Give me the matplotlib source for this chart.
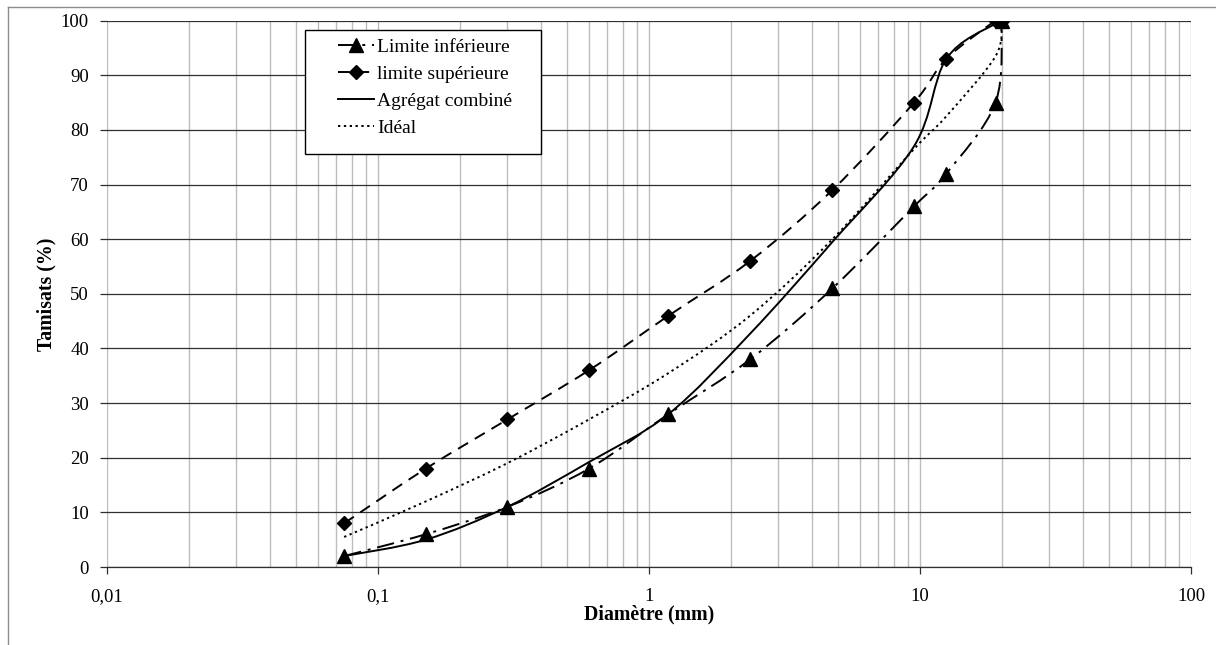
import numpy as np
import matplotlib
matplotlib.use("Agg")
import matplotlib.pyplot as plt
from matplotlib.path import Path
from matplotlib.patches import PathPatch, Rectangle
from matplotlib.lines import Line2D
from matplotlib.ticker import FixedLocator, FixedFormatter, LogLocator, NullFormatter

plt.rcParams['font.family'] = ['Liberation Serif', 'DejaVu Serif']

# sieve openings (mm)
sizes = [0.075, 0.15, 0.3, 0.6, 1.18, 2.36, 4.75, 9.5, 12.5, 19, 20]
lower = [2, 6, 11, 18, 28, 38, 51, 66, 72, 85, 100]
upper = [8, 18, 27, 36, 46, 56, 69, 85, 93, 100, 100]
combined = [2, 5, 11, 19.2, 28, 42.7, 59.5, 77, 93, 99.5, 100]
ideal = [5.5, 12, 19, 27, 35.5, 46, 60, 76.5, 82.5, 93.5, 100]

labels = ['Limite inférieure', 'limite supérieure', 'Agrégat combiné', 'Idéal']
xticks = [0.01, 0.1, 1, 10, 100]
xticklabels = ['0,01', '0,1', '1', '10', '100']
yticks = list(range(0, 101, 10))

ls_lower = (0, (9, 3.5, 1.5, 3.5))
ls_upper = (0, (6, 4))
ls_comb = '-'
ls_ideal = (0, (1.2, 1.8))


def smooth_path(xs, ys):
    # excel-like smoothed line: cubic bezier through the points (log x)
    pts = np.column_stack([np.log10(xs), ys]).astype(float)
    n = len(pts)
    verts = [pts[0]]
    codes = [Path.MOVETO]
    for i in range(n - 1):
        p0 = pts[i - 1] if i > 0 else pts[i]
        p3 = pts[i + 2] if i + 2 < n else pts[i + 1]
        c1 = pts[i] + (pts[i + 1] - p0) / 6
        c2 = pts[i + 1] - (p3 - pts[i]) / 6
        verts += [c1, c2, pts[i + 1]]
        codes += [Path.CURVE4] * 3
    verts = np.array(verts)
    verts[:, 0] = 10 ** verts[:, 0]
    return Path(verts, codes)


fig = plt.figure(figsize=(12.16, 6.45), dpi=100)
ax = fig.add_axes([107/1216, 78/645, 1084/1216, 546.3/645])
ax.set_xscale('log')
ax.set_xlim(0.01, 100)
ax.set_ylim(0, 100)

lw = 1.4
for ys, ls in [(lower, ls_lower), (upper, ls_upper), (combined, ls_comb), (ideal, ls_ideal)]:
    p = PathPatch(smooth_path(sizes, ys), facecolor='none', edgecolor='black',
                  linewidth=lw, linestyle=ls, zorder=3)
    ax.add_patch(p)

ax.plot(sizes, lower, '^', color='black', ms=10, zorder=4)
ax.plot(sizes, upper, 'D', color='black', ms=7, zorder=4)

# grid
ax.xaxis.set_major_locator(FixedLocator(xticks))
ax.xaxis.set_major_formatter(FixedFormatter(xticklabels))
ax.xaxis.set_minor_locator(LogLocator(base=10, subs=np.arange(2, 10)))
ax.xaxis.set_minor_formatter(NullFormatter())
ax.set_yticks(yticks)
ax.grid(True, axis='x', which='both', color='#bdbdbd', linewidth=1.0, zorder=0)
ax.grid(True, axis='y', which='major', color='#303030', linewidth=0.9, zorder=0)
ax.set_axisbelow(True)

for s in ['left', 'right', 'top']:
    ax.spines[s].set_visible(False)
ax.spines['bottom'].set_color('#303030')
ax.spines['bottom'].set_linewidth(0.9)

ax.tick_params(axis='both', which='major', labelsize=13.5, length=5, width=0.9,
               color='#303030', direction='out')
ax.tick_params(axis='x', which='minor', length=0)
ax.tick_params(axis='x', which='major', pad=10)
ax.tick_params(axis='y', which='major', pad=8)

ax.set_xlabel('Diamètre (mm)', fontsize=14.3, fontweight='bold', labelpad=0)
ax.set_ylabel('Tamisats (%)', fontsize=14.3, fontweight='bold', labelpad=3)

# legend box drawn separately so its padding matches the original
ax.add_patch(Rectangle((0.1827, 0.756), 0.2177, 0.227, transform=ax.transAxes,
                       facecolor='white', edgecolor='black', lw=1.0, zorder=5))
handles = [
    Line2D([], [], color='black', lw=lw, ls=ls_lower, marker='^', ms=10),
    Line2D([], [], color='black', lw=lw, ls=ls_upper, marker='D', ms=7),
    Line2D([], [], color='black', lw=lw, ls=ls_comb),
    Line2D([], [], color='black', lw=lw, ls=ls_ideal),
]
leg = ax.legend(handles, labels, loc='upper left', bbox_to_anchor=(0.213, 0.968),
                borderaxespad=0, borderpad=0, fontsize=14, frameon=False,
                handlelength=1.85, handletextpad=0.15, labelspacing=0.48)
leg.set_zorder(6)

# outer chart-area border
fig.add_artist(Line2D([8/1216, 8/1216], [0, 1 - 7/645], transform=fig.transFigure,
                      color='#8c8c8c', lw=1))
fig.add_artist(Line2D([8/1216, 1], [1 - 7/645, 1 - 7/645], transform=fig.transFigure,
                      color='#8c8c8c', lw=1))

fig.savefig('out.png', dpi=100)
